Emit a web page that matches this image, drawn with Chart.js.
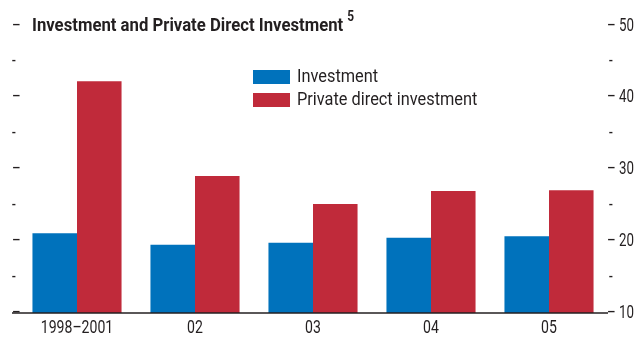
<!DOCTYPE html>
<html>
<head>
<meta charset="utf-8">
<script src="https://cdn.jsdelivr.net/npm/chart.js@4/dist/chart.umd.min.js"></script>
<style>
  html, body { margin: 0; padding: 0; background: #fff; }
  #wrap { width: 638px; height: 339px; }
</style>
</head>
<body>
<div id="wrap"><canvas id="chart" width="638" height="339"></canvas></div>
<script>
const categories = ['1998–2001', '02', '03', '04', '05'];
const investment = [21.1, 19.5, 19.8, 20.5, 20.7];
const privateDirect = [42.3, 29.1, 25.2, 27.0, 27.1];
const yMajorTicks = [10, 20, 30, 40, 50];
const yMinorTicks = [15, 25, 35, 45];
const seriesNames = ['Investment', 'Private direct investment'];
const chartTitle = 'Investment and Private Direct Investment';
const titleNote = '5';

const FONT = 'Roboto, "Liberation Sans", Arial, sans-serif';
const INK = '#231f20';
const BLUE = '#0072bc';
const RED = '#c02a3a';
const SQUEEZE = 0.74;   // fake a condensed face

function narrowText(ctx, text, x, y, align, sx) {
  ctx.save();
  ctx.translate(x, y);
  ctx.scale(sx, 1);
  ctx.textAlign = align;
  ctx.fillText(text, 0, 0);
  ctx.restore();
}

// ticks, labels, title, legend and baseline drawn by hand like the print version
const decorations = {
  id: 'decorations',
  afterDraw(chart) {
    const ctx = chart.ctx;
    const area = chart.chartArea;
    const x = chart.scales.x;
    const y = chart.scales.y;
    ctx.save();
    ctx.fillStyle = INK;
    ctx.textBaseline = 'middle';

    // baseline
    const by = y.getPixelForValue(10);
    ctx.strokeStyle = INK;
    ctx.lineWidth = 1.5;
    ctx.beginPath();
    ctx.moveTo(area.left - 6, by);
    ctx.lineTo(area.right, by);
    ctx.stroke();

    ctx.font = '18px ' + FONT;
    yMajorTicks.forEach(v => {
      const py = y.getPixelForValue(v);
      narrowText(ctx, '– ' + v, area.right - 1, py, 'left', SQUEEZE);
      narrowText(ctx, '–', area.left - 6, py, 'left', SQUEEZE);
    });
    yMinorTicks.forEach(v => {
      const py = y.getPixelForValue(v);
      narrowText(ctx, '-', area.right + 1, py, 'left', SQUEEZE);
      narrowText(ctx, '-', area.left - 6, py, 'left', SQUEEZE);
    });

    ctx.font = '19px ' + FONT;
    categories.forEach((c, i) => {
      narrowText(ctx, c, x.getPixelForValue(i), by + 15, 'center', SQUEEZE);
    });

    // title
    const tsx = 0.88;
    ctx.font = 'bold 19px ' + FONT;
    const ty = y.getPixelForValue(50);
    narrowText(ctx, chartTitle, area.left + 14, ty, 'left', tsx);
    const tw = ctx.measureText(chartTitle).width * tsx;
    ctx.font = 'bold 14px ' + FONT;
    narrowText(ctx, titleNote, area.left + 14 + tw + 4, ty - 9, 'left', 0.85);

    // legend
    const colors = [BLUE, RED];
    ctx.font = '19px ' + FONT;
    seriesNames.forEach((name, i) => {
      const ly = 77 + i * 23;
      ctx.fillStyle = colors[i];
      ctx.fillRect(253, ly - 7, 37, 14);
      ctx.fillStyle = INK;
      narrowText(ctx, name, 297, ly, 'left', 0.86);
    });
    ctx.restore();
  }
};

new Chart(document.getElementById('chart'), {
  type: 'bar',
  data: {
    labels: categories,
    datasets: [
      { label: seriesNames[0], data: investment, backgroundColor: BLUE },
      { label: seriesNames[1], data: privateDirect, backgroundColor: RED }
    ]
  },
  options: {
    responsive: false,
    animation: false,
    layout: { padding: { left: 18, right: 30, top: 26, bottom: 26 } },
    datasets: { bar: { categoryPercentage: 0.755, barPercentage: 1.0 } },
    plugins: { legend: { display: false }, title: { display: false }, tooltip: { enabled: false } },
    scales: {
      x: { display: false },
      y: { display: false, min: 10, max: 50 }
    }
  },
  plugins: [decorations]
});
</script>
</body>
</html>
